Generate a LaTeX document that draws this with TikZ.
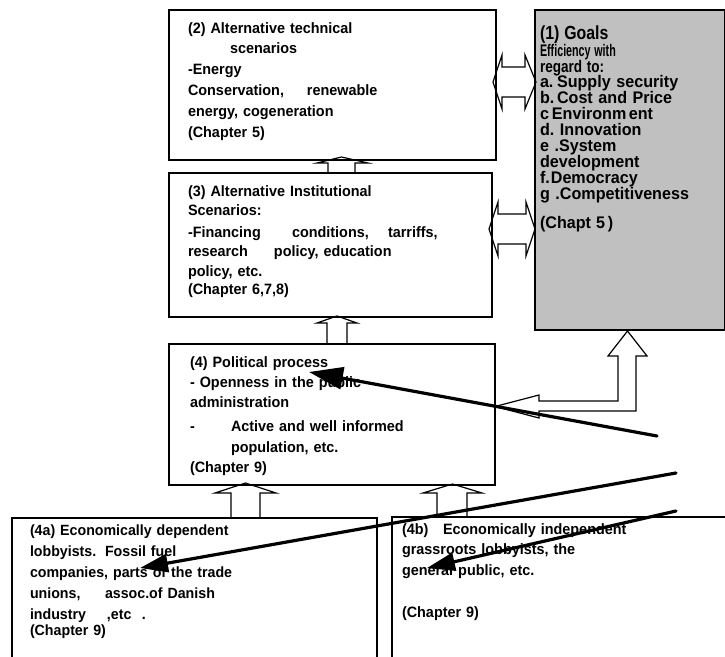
\documentclass[tikz,border=0pt]{standalone}
\usepackage{fontspec}
\usepackage{graphicx}
\setmainfont{Liberation Sans Bold}[FakeStretch=0.96]
\usetikzlibrary{arrows.meta}
\definecolor{goalfill}{RGB}{192,192,192}
\frenchspacing
\begin{document}
\begin{tikzpicture}[x=1pt, y=-1pt,
  frame/.style={draw=black, line width=1.4pt, inner sep=0pt, outer sep=0pt, anchor=north west},
  goalframe/.style={frame, fill=goalfill},
  txt/.style={anchor=base west, inner sep=0pt, outer sep=0pt, text width=330pt, align=left,
              font=\fontsize{15}{20.8}\selectfont},
  hollow/.style={draw=black, line width=1.2pt, line join=miter},
  push/.style={draw=black, line width=3.2pt, line cap=round, -{Triangle[length=28pt,width=18pt]}},
  bigpush/.style={push, -{Triangle[length=34pt,width=22pt]}},
]
\useasboundingbox (0,0) rectangle (725,656);

% boxes
\node[frame, minimum width=327pt, minimum height=150pt] (tech) at (169,10) {};
\node[goalframe, minimum width=189.5pt, minimum height=320pt] (goals) at (535,10) {};
\node[frame, minimum width=323pt, minimum height=144pt] (inst) at (169,173) {};
\node[frame, minimum width=326pt, minimum height=141pt] (pol) at (169,344) {};
\node[frame, minimum width=365pt, minimum height=160pt] (dep) at (12,518) {};
\node[frame, minimum width=360pt, minimum height=160pt] (indep) at (392,517) {};

% hollow block arrows
\draw[hollow] (328,173) -- (328,163) -- (317,163) -- (341.5,157) -- (368,163) -- (355,163) -- (355,173);
\draw[hollow] (327,344) -- (327,323) -- (317,323) -- (337,316) -- (357,323) -- (347,323) -- (347,344);
\draw[hollow] (231,518) -- (231,493) -- (215,493) -- (245.5,483) -- (276,493) -- (260,493) -- (260,518);
\draw[hollow] (437,517) -- (437,493) -- (423,493) -- (452.5,484) -- (482,493) -- (467,493) -- (467,517);
\draw[hollow] (493,82) -- (502,55) -- (502,67) -- (525,67) -- (525,55) -- (536,82)
   -- (525,109) -- (525,97) -- (502,97) -- (502,109) -- cycle;
\draw[hollow] (489,229) -- (498,202) -- (498,214) -- (526,214) -- (526,202) -- (535,229)
   -- (526,256) -- (526,244) -- (498,244) -- (498,256) -- cycle;
\draw[hollow] (495,406.5) -- (539,395) -- (539,401) -- (618,401) -- (618,356) -- (608,356)
   -- (627.5,331) -- (647,356) -- (636,356) -- (636,411) -- (539,411) -- (539,418) -- cycle;

% texts
\node[txt] (techtxt) at (188,33) {(2) Alternative technical\\
\hspace*{42pt}scenarios\\
-Energy\\
\makebox[119pt][l]{Conservation,}renewable\\
energy, cogeneration\\
(Chapter 5)};

\node[txt, font=\fontsize{15}{19.6}\selectfont] (insttxt) at (188,196) {(3) Alternative Institutional\\
Scenarios:\\[2pt]
\makebox[104pt][l]{-Financing}\makebox[96pt][l]{conditions,}tarriffs,\\
\makebox[86pt][l]{research}policy, education\\
policy, etc.\\[-2pt]
(Chapter 6,7,8)};

\node[txt, font=\fontsize{15}{20.4}\selectfont] (poltxt) at (190,367) {(4) Political process\\
- Openness in the public\\
administration\\[3.6pt]
\makebox[41pt][l]{-}Active and well informed\\
\hspace*{41pt}population, etc.\\
(Chapter 9)};

\node[txt, font=\fontsize{14.8}{21.2}\selectfont] (deptxt) at (30,535) {(4a) Economically dependent\\
\makebox[75pt][l]{lobbyists.}Fossil fuel\\
companies, parts of the trade\\
\makebox[75pt][l]{unions,}assoc.of Danish\\
\makebox[77pt][l]{industry}\makebox[35pt][l]{,etc}.\\[-5.2pt]
(Chapter 9)};

\node[txt] (indeptxt) at (402,534) {\makebox[41pt][l]{(4b)}Economically independent\\
grassroots lobbyists, the\\
general public, etc.\\[20.8pt]
(Chapter 9)};

\node[txt, text width=180pt, font=\fontsize{16.8}{15.9}\selectfont] (goaltxt) at (540,39)
{{\fontsize{19}{19}\selectfont\scalebox{0.87}[1]{(1) Goals}}\\
\scalebox{0.665}[1]{Efficiency with}\\
\scalebox{0.84}[1]{regard to:}\\
\makebox[17pt][l]{a.}Supply security\\
\makebox[17pt][l]{b.}Cost and Price\\
\makebox[12pt][l]{c}Environm\hspace{2.5pt}ent\\
d. Innovation\\
e .System\\
development\\
f.\hspace{1pt}Democracy\\
g .Competitiveness\\[13pt]
\makebox[56pt][l]{(Chapt}5\hspace{3pt})};

% heavy arrows
\coordinate (p1s) at (657,436);
\coordinate (p1e) at (309,372);
\coordinate (p2s) at (676,473);
\coordinate (p2e) at (140,568);
\coordinate (p3s) at (676,511);
\coordinate (p3e) at (427,568);
\draw[bigpush] (p1s) -- (p1e);
\draw[push] (p2s) -- (p2e);
\draw[push] (p3s) -- (p3e);
\end{tikzpicture}
\end{document}
